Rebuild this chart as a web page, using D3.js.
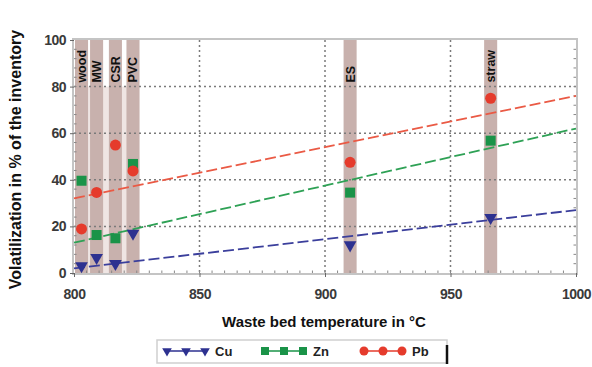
<!DOCTYPE html>
<html>
<head>
<meta charset="utf-8">
<script src="https://cdn.jsdelivr.net/npm/d3@7"></script>
<style>
  body { margin: 0; background: #fff; }
  text { font-family: "Liberation Sans", Arial, sans-serif; }
</style>
</head>
<body>
<div id="chart"></div>
<script>
// fuels and their waste bed temperatures
const fuels = ['wood', 'MW', 'CSR', 'PVC', 'ES', 'straw'];
const temps = [803, 809, 816.5, 823.5, 910, 966];

// volatilization in %
const cu = [3, 6.6, 4, 17, 12, 23.7];
const zn = [39.6, 16.3, 14.9, 46.8, 34.5, 56.8];
const pb = [18.9, 34.6, 54.9, 43.8, 47.5, 75];

// linear trend ends
const trendX = [800, 1000];
const cuTrend = [2, 27];
const znTrend = [13, 62];
const pbTrend = [32, 76];

const xTicks = [800, 850, 900, 950, 1000];
const yTicks = [0, 20, 40, 60, 80, 100];

var margin = {top: 40, right: 16, bottom: 94, left: 74},
    width = 592 - margin.left - margin.right,
    height = 367 - margin.top - margin.bottom;

var x = d3.scaleLinear().domain([800, 1000]).range([0, width]);
var y = d3.scaleLinear().domain([0, 100]).range([height, 0]);

var svg = d3.select("#chart").append("svg")
    .attr("width", 592).attr("height", 367)
  .append("g")
    .attr("transform", "translate(" + margin.left + "," + margin.top + ")");

// light backing below 80 for the first four fuels
svg.append("rect")
    .attr("x", x(temps[0] - 2.5)).attr("y", y(80))
    .attr("width", x(temps[3] + 2.5) - x(temps[0] - 2.5))
    .attr("height", y(0) - y(80))
    .attr("fill", "#efe5e3");

// fuel bands
svg.selectAll(".band")
    .data(temps)
    .enter().append("rect")
        .attr("x", d => x(d - 2.6))
        .attr("y", y(100))
        .attr("width", d => x(d + 2.6) - x(d - 2.6))
        .attr("height", height)
        .attr("fill", "#c8b1ad");

// grid
svg.selectAll(".gy")
    .data(yTicks.slice(1, -1))
    .enter().append("line")
        .attr("x1", 0).attr("x2", width)
        .attr("y1", d => y(d)).attr("y2", d => y(d))
        .attr("stroke", "#7a7a7a").attr("stroke-width", 1.5)
        .attr("stroke-dasharray", "2,3");
svg.selectAll(".gx")
    .data(xTicks.slice(1, -1))
    .enter().append("line")
        .attr("x1", d => x(d)).attr("x2", d => x(d))
        .attr("y1", 0).attr("y2", height)
        .attr("stroke", "#7a7a7a").attr("stroke-width", 1.5)
        .attr("stroke-dasharray", "2,3");

// band labels
svg.selectAll(".blab")
    .data(fuels)
    .enter().append("text")
        .attr("transform", (d, i) => "translate(" + (x(temps[i]) + 4.5) + "," + (y(80) - 4) + ") rotate(-90)")
        .attr("font-size", 12.5)
        .attr("font-weight", "bold")
        .attr("fill", "#111")
        .text(d => d);

// frame
svg.append("rect")
    .attr("x", -1).attr("y", -1)
    .attr("width", width + 2).attr("height", height + 2)
    .attr("fill", "none").attr("stroke", "#c4c4c4").attr("stroke-width", 2);

// minor ticks
svg.selectAll(".mx")
    .data(d3.range(805, 1000, 5))
    .enter().append("line")
        .attr("x1", d => x(d)).attr("x2", d => x(d))
        .attr("y1", height).attr("y2", height - 2.5)
        .attr("stroke", "#888");
svg.selectAll(".my")
    .data(d3.range(4, 100, 4))
    .enter().append("line")
        .attr("x1", 0).attr("x2", 2.5)
        .attr("y1", d => y(d)).attr("y2", d => y(d))
        .attr("stroke", "#888");
svg.selectAll(".my2")
    .data(d3.range(4, 100, 4))
    .enter().append("line")
        .attr("x1", width).attr("x2", width - 2.5)
        .attr("y1", d => y(d)).attr("y2", d => y(d))
        .attr("stroke", "#888");

// axes
var xAxis = svg.append("g")
    .attr("transform", "translate(0," + height + ")")
    .call(d3.axisBottom(x).tickValues(xTicks).tickFormat(d3.format("d")).tickSize(4).tickPadding(12));
var yAxis = svg.append("g")
    .call(d3.axisLeft(y).tickValues(yTicks).tickSize(4).tickPadding(4));
[xAxis, yAxis].forEach(a => {
    a.select(".domain").remove();
    a.selectAll("line").attr("stroke", "#666");
    a.selectAll("text")
        .attr("font-family", "Liberation Sans, Arial, sans-serif")
        .attr("font-size", 14)
        .attr("font-weight", "bold")
        .attr("letter-spacing", -0.5)
        .attr("fill", "#3a3a3a");
});

// trend lines
var trends = [
    {v: cuTrend, c: "#3b3f9c"},
    {v: znTrend, c: "#2ea155"},
    {v: pbTrend, c: "#ea5a45"}
];
svg.selectAll(".trend")
    .data(trends)
    .enter().append("line")
        .attr("x1", x(trendX[0])).attr("x2", x(trendX[1]))
        .attr("y1", d => y(d.v[0])).attr("y2", d => y(d.v[1]))
        .attr("stroke", d => d.c)
        .attr("stroke-width", 1.8)
        .attr("stroke-dasharray", "11,4");

var cuColor = "#2d3190", znColor = "#1a9348", pbColor = "#e53b2c";
var tri = d3.symbol().type(d3.symbolTriangle).size(70);

function drawCu(g, px, py, size) {
    g.append("path").attr("d", d3.symbol().type(d3.symbolTriangle).size(size)())
        .attr("transform", "translate(" + px + "," + py + ") rotate(180)")
        .attr("fill", cuColor);
}
function drawZn(g, px, py, s) {
    g.append("rect").attr("x", px - s / 2).attr("y", py - s / 2)
        .attr("width", s).attr("height", s).attr("fill", znColor);
}
function drawPb(g, px, py, r) {
    g.append("circle").attr("cx", px).attr("cy", py).attr("r", r).attr("fill", pbColor);
}

temps.forEach((t, i) => {
    drawZn(svg, x(t), y(zn[i]), 10);
    drawPb(svg, x(t), y(pb[i]), 5.5);
    drawCu(svg, x(t), y(cu[i]), 70);
});

// axis titles
svg.append("text")
    .attr("x", width / 2 - 1)
    .attr("y", height + 54)
    .attr("text-anchor", "middle")
    .attr("font-size", 15)
    .attr("font-weight", "bold")
    .attr("fill", "#111")
    .text("Waste bed temperature in °C");
svg.append("text")
    .attr("transform", "translate(" + (-53) + "," + (height / 2 + 3) + ") rotate(-90)")
    .attr("text-anchor", "middle")
    .attr("font-size", 16)
    .attr("font-weight", "bold")
    .attr("fill", "#111")
    .text("Volatilization in % of the inventory");

// legend
var leg = d3.select("svg").append("g");
leg.append("rect")
    .attr("x", 157).attr("y", 340).attr("width", 290).attr("height", 23)
    .attr("fill", "#fff").attr("stroke", "#cfcfcf").attr("stroke-width", 1.5);
leg.append("line")
    .attr("x1", 447).attr("x2", 447).attr("y1", 345).attr("y2", 364)
    .attr("stroke", "#111").attr("stroke-width", 2.5);

var legItems = [
    {name: "Cu", x0: 167, c: cuColor, draw: (px, py) => drawCu(leg, px, py, 40)},
    {name: "Zn", x0: 265, c: znColor, draw: (px, py) => drawZn(leg, px, py, 8)},
    {name: "Pb", x0: 364, c: pbColor, draw: (px, py) => drawPb(leg, px, py, 4.5)}
];
legItems.forEach(it => {
    leg.append("line")
        .attr("x1", it.x0).attr("x2", it.x0 + 38)
        .attr("y1", 351).attr("y2", 351)
        .attr("stroke", it.c).attr("stroke-width", 1.5);
    [0, 19, 38].forEach(o => it.draw(it.x0 + o, 351));
    leg.append("text")
        .attr("x", it.x0 + 48).attr("y", 356)
        .attr("font-size", 13)
        .attr("font-weight", "bold")
        .attr("fill", "#222")
        .text(it.name);
});
</script>
</body>
</html>
